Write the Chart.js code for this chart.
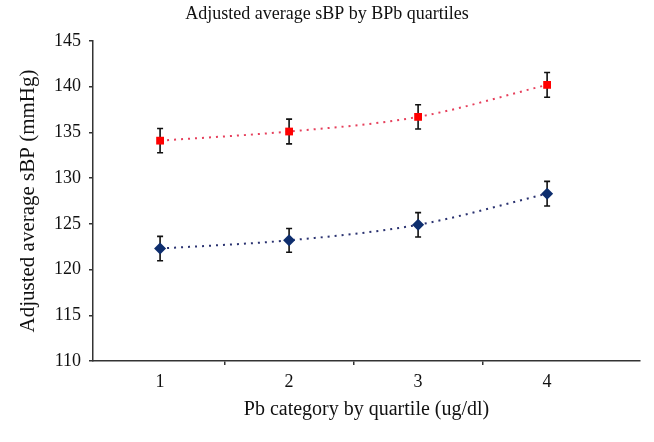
<!DOCTYPE html>
<html>
<head>
<meta charset="utf-8">
<script src="https://cdn.jsdelivr.net/npm/chart.js@4/dist/chart.umd.min.js"></script>
<style>
  body { margin: 0; background: #fff; }
</style>
</head>
<body>
<canvas id="graph" width="654" height="442"></canvas>
<script>
const quartiles = [1, 2, 3, 4];
const upperSbp = [134.1, 135.1, 136.7, 140.2];
const upperErr = [1.33, 1.35, 1.33, 1.35];
const lowerSbp = [122.3, 123.2, 124.9, 128.3];
const lowerErr = [1.33, 1.3, 1.33, 1.35];
const yTicks = [110, 115, 120, 125, 130, 135, 140, 145];

const serif = "'Liberation Serif', 'DejaVu Serif', serif";

// draws the +/- bars under the markers
const errorBars = {
	id: "errorBars",
	beforeDatasetsDraw(chart) {
		const ctx = chart.ctx;
		const y = chart.scales.y;
		ctx.save();
		ctx.strokeStyle = "#111";
		ctx.lineWidth = 1.6;
		chart.data.datasets.forEach((ds, i) => {
			const meta = chart.getDatasetMeta(i);
			meta.data.forEach((pt, j) => {
				const v = ds.data[j].y;
				const top = y.getPixelForValue(v + ds.errors[j]);
				const bot = y.getPixelForValue(v - ds.errors[j]);
				ctx.beginPath();
				ctx.moveTo(pt.x, top);
				ctx.lineTo(pt.x, bot);
				ctx.moveTo(pt.x - 3, top);
				ctx.lineTo(pt.x + 3, top);
				ctx.moveTo(pt.x - 3, bot);
				ctx.lineTo(pt.x + 3, bot);
				ctx.stroke();
			});
		});
		ctx.restore();
	},
};

new Chart(document.getElementById("graph"), {
	type: "line",
	data: {
		datasets: [
			{
				label: "Upper",
				data: quartiles.map((q, i) => ({ x: q, y: upperSbp[i] })),
				errors: upperErr,
				borderColor: "#e6405c",
				borderWidth: 2,
				borderDash: [2, 5],
				cubicInterpolationMode: "monotone",
				pointStyle: "rect",
				pointRadius: 5.5,
				pointBackgroundColor: "#ff0000",
				pointBorderColor: "#ff0000",
				pointBorderWidth: 0,
			},
			{
				label: "Lower",
				data: quartiles.map((q, i) => ({ x: q, y: lowerSbp[i] })),
				errors: lowerErr,
				borderColor: "#2a3270",
				borderWidth: 2,
				borderDash: [2, 5],
				cubicInterpolationMode: "monotone",
				pointStyle: "rectRot",
				pointRadius: 6,
				pointBackgroundColor: "#0e2e6e",
				pointBorderColor: "#0e2e6e",
				pointBorderWidth: 0,
			},
		],
	},
	options: {
		responsive: false,
		animation: false,
		layout: { padding: { top: 0, right: 14, left: 14, bottom: 0 } },
		plugins: {
			legend: { display: false },
			tooltip: { enabled: false },
			title: {
				display: true,
				text: "Adjusted average sBP by BPb quartiles",
				color: "#111",
				font: { family: serif, size: 18, weight: "normal" },
				padding: { top: 3, bottom: 16.4 },
			},
		},
		scales: {
			x: {
				type: "linear",
				min: 0.48,
				max: 4.72,
				afterBuildTicks: (s) => {
					const t = [];
					quartiles.forEach((q, i) => {
						t.push({ value: q });
						if (i < quartiles.length - 1) t.push({ value: q + 0.5 });
					});
					s.ticks = t;
				},
				afterFit: (s) => { s.height = 81; },
				grid: {
					drawOnChartArea: false,
					tickLength: 4,
					lineWidth: 1.5,
					color: (c) => (c.tick && Number.isInteger(c.tick.value) ? "rgba(0,0,0,0)" : "#333"),
				},
				border: { color: "#333", width: 1.5 },
				ticks: {
					autoSkip: false,
					maxRotation: 0,
					color: "#111",
					font: { family: serif, size: 18 },
					padding: 6,
					callback: (v) => (Number.isInteger(v) ? String(v) : ""),
				},
				title: {
					display: true,
					text: "Pb category by quartile (ug/dl)",
					color: "#111",
					font: { family: serif, size: 20 },
					padding: { top: 0, bottom: 20 },
				},
			},
			y: {
				min: 110,
				max: 145,
				afterBuildTicks: (s) => { s.ticks = yTicks.map((v) => ({ value: v })); },
				afterFit: (s) => { s.width = 79; },
				ticks: { color: "#111", font: { family: serif, size: 18 }, padding: 8 },
				grid: { drawOnChartArea: false, tickLength: 4, lineWidth: 1.5, color: "#333" },
				border: { color: "#333", width: 1.5 },
				title: {
					display: true,
					text: "Adjusted average sBP (mmHg)",
					color: "#111",
					font: { family: serif, size: 21 },
					padding: { top: 1.4, bottom: 0 },
				},
			},
		},
	},
	plugins: [errorBars],
});
</script>
</body>
</html>
